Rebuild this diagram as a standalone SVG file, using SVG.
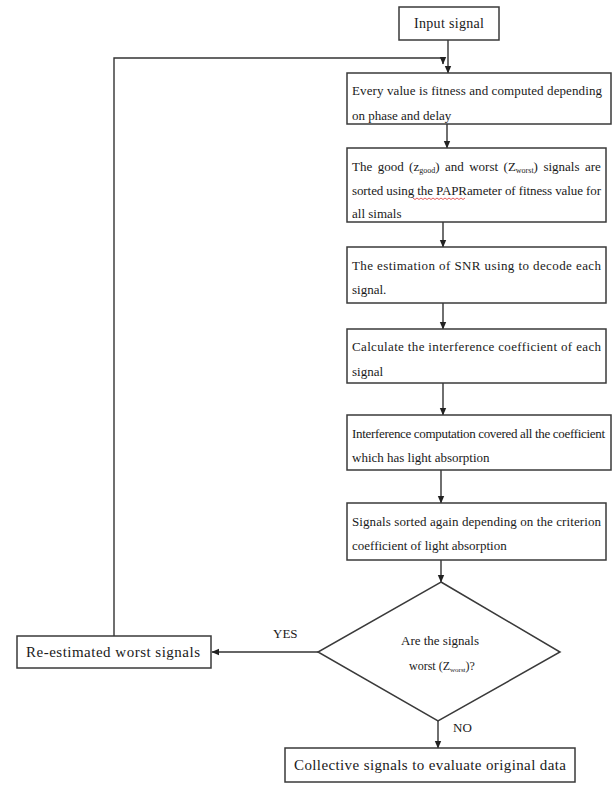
<svg xmlns="http://www.w3.org/2000/svg" width="616" height="789" viewBox="0 0 616 789">
<style>
.box{fill:#fff;stroke:#3a3a3a;stroke-width:1.5}
text{font-family:'Liberation Serif','Times New Roman','DejaVu Serif',serif;font-size:13px;fill:#1a1a1a}
.s{font-size:8px}
.xs{font-size:7px}
.dm{font-size:12px}
.lg{font-size:14px}
.xl{font-size:15px}
.c{fill:none;stroke:#333;stroke-width:1.4}
.w{fill:none;stroke:#d33;stroke-width:0.8}
</style>
<defs>
<marker id="ah" markerUnits="userSpaceOnUse" markerWidth="8" markerHeight="8" viewBox="0 0 8 8" refX="7" refY="4" orient="auto">
<path d="M0,0.8 L7.5,4 L0,7.2 Z" fill="#222"/>
</marker>
</defs>
<rect width="616" height="789" fill="#fff"/>
<g id="connectors">
<path class="c" d="M448,40 V73" marker-end="url(#ah)"/>
<path class="c" d="M114,636 V58 H443 V64" marker-end="url(#ah)"/>
<path class="c" d="M447,124 V148" marker-end="url(#ah)"/>
<path class="c" d="M443,222 V247" marker-end="url(#ah)"/>
<path class="c" d="M443,303 V329" marker-end="url(#ah)"/>
<path class="c" d="M443,383 V415" marker-end="url(#ah)"/>
<path class="c" d="M441,470 V503" marker-end="url(#ah)"/>
<path class="c" d="M441,560 V582" marker-end="url(#ah)"/>
<path class="c" d="M318,652 H212" marker-end="url(#ah)"/>
<path class="c" d="M438,721 V748" marker-end="url(#ah)"/>
<text x="273" y="638">YES</text>
<text x="453" y="732">NO</text>
</g>
<g id="input">
<rect class="box" x="399" y="7" width="100" height="33"/>
<text class="lg" x="414" y="28" textLength="70" lengthAdjust="spacing">Input signal</text>
</g>
<g id="fitness">
<rect class="box" x="347" y="73" width="264" height="51"/>
<text x="352" y="95" textLength="250" lengthAdjust="spacing">Every value is fitness and computed depending</text>
<text x="352" y="120">on phase and delay</text>
</g>
<g id="sort">
<rect class="box" x="347" y="148" width="259" height="74"/>
<text x="352" y="171" word-spacing="2.2">The good (z<tspan class="s" dy="2">good</tspan><tspan dy="-2">) and worst (Z</tspan><tspan class="s" dy="2">worst</tspan><tspan dy="-2">) signals are</tspan></text>
<text x="352" y="195" textLength="249" lengthAdjust="spacing">sorted using the PAPRameter of fitness value for</text>
<text x="352" y="218">all simals</text>
<path class="w" d="M413,198 l2,1.5 l2,-1.5 l2,1.5 l2,-1.5 l2,1.5 l2,-1.5 l2,1.5 l2,-1.5 l2,1.5 l2,-1.5 l2,1.5 l2,-1.5 l2,1.5 l2,-1.5 l2,1.5 l2,-1.5 l2,1.5 l2,-1.5 l2,1.5 l2,-1.5 l2,1.5 l2,-1.5 l2,1.5 l2,-1.5 l2,1.5 l2,-1.5"/>
</g>
<g id="snr">
<rect class="box" x="347" y="247" width="259" height="56"/>
<text x="352" y="270" textLength="249" lengthAdjust="spacing">The estimation of SNR using to decode each</text>
<text x="352" y="294">signal.</text>
</g>
<g id="interference">
<rect class="box" x="347" y="329" width="259" height="54"/>
<text x="352" y="351" textLength="249" lengthAdjust="spacing">Calculate the interference coefficient of each</text>
<text x="352" y="376">signal</text>
</g>
<g id="computation">
<rect class="box" x="347" y="415" width="264" height="55"/>
<text x="352" y="438" textLength="253" lengthAdjust="spacing">Interference computation covered all the coefficient</text>
<text x="352" y="462">which has light absorption</text>
</g>
<g id="resort">
<rect class="box" x="347" y="503" width="259" height="57"/>
<text x="352" y="526" textLength="249" lengthAdjust="spacing">Signals sorted again depending on the criterion</text>
<text x="352" y="550">coefficient of light absorption</text>
</g>
<g id="decision">
<polygon class="box" points="441,582 560,652 438,721 318,652"/>
<text x="440" y="645" text-anchor="middle">Are the signals</text>
<text class="dm" x="409" y="670">worst (Z<tspan class="xs" dy="2">worst</tspan><tspan dy="-2">)?</tspan></text>
</g>
<g id="reestimate">
<rect class="box" x="17" y="636" width="194" height="32"/>
<text class="xl" x="26" y="657" textLength="174" lengthAdjust="spacing">Re-estimated worst signals</text>
</g>
<g id="collective">
<rect class="box" x="285" y="748" width="290" height="34"/>
<text class="xl" x="294" y="770" textLength="272" lengthAdjust="spacing">Collective signals to evaluate original data</text>
</g>
</svg>
